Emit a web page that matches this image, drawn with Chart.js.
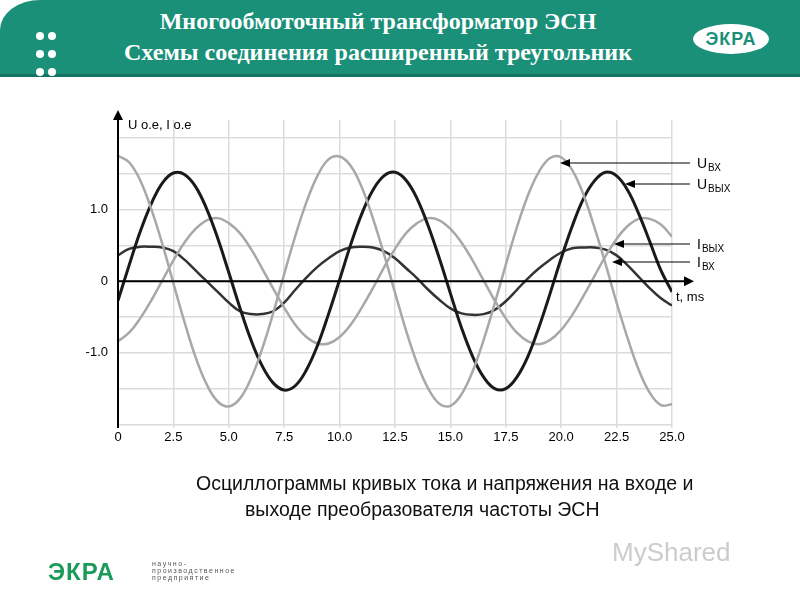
<!DOCTYPE html>
<html lang="ru">
<head>
<meta charset="UTF-8" />
<title>Многообмоточный трансформатор ЭСН</title>
<script src="https://cdn.jsdelivr.net/npm/chart.js"></script>
<style>
  body { margin: 0; width: 800px; height: 600px; background: #fff; position: relative; overflow: hidden; font-family: "Liberation Sans", Arial, sans-serif; }
  .header { position: absolute; left: 0; top: 0; width: 800px; height: 74px; background: #1b9079; border-top-left-radius: 40px 30px; border-bottom: 3px solid #127563; }
  .header h1 { margin: 0; position: absolute; left: 0; width: 756px; top: 6px; text-align: center; color: #fff; font-family: "Liberation Serif", "Times New Roman", serif; font-weight: bold; font-size: 24px; line-height: 31px; }
  .dots { position: absolute; left: 36px; top: 29px; width: 26px; }
  .dots span { display: inline-block; width: 8px; height: 8px; border-radius: 50%; background: #fff; margin: 0 4px 3px 0; }
  .logo { position: absolute; left: 693px; top: 24px; width: 76px; height: 30px; border-radius: 50%; background: #fff; color: #1b9079; font-weight: bold; font-size: 18px; text-align: center; line-height: 30px; letter-spacing: 1px; }
  #wrap { position: absolute; left: 0; top: 0; width: 800px; height: 600px; }
  .caption { position: absolute; left: 196px; width: 560px; top: 470px; font-size: 19.5px; line-height: 26px; color: #111; }
  .caption span { padding-left: 49px; }
  .foot { position: absolute; left: 48px; top: 558px; color: #1b9a5a; font-weight: bold; font-size: 24px; letter-spacing: 1px; }
  .foot small { position: absolute; left: 104px; top: 2px; width: 130px; font-size: 7px; line-height: 7px; letter-spacing: 1.5px; font-weight: normal; color: #555; }
  .mark { position: absolute; left: 612px; top: 537px; color: #ccc; font-size: 26px; }
</style>
</head>
<body>
<div class="header">
  <div class="dots"><span></span><span></span><span></span><span></span><span></span><span></span></div>
  <h1>Многообмоточный трансформатор ЭСН<br>Схемы соединения расширенный треугольник</h1>
  <div class="logo">ЭКРА</div>
</div>
<div id="wrap"><canvas id="osc" width="800" height="600"></canvas></div>
<div class="caption">Осциллограммы кривых тока и напряжения на входе и<br><span>выходе преобразователя частоты ЭСН</span></div>
<div class="foot">ЭКРА<small>научно-<br>производственное<br>предприятие</small></div>
<div class="mark">MyShared</div>
<script>
const timeMs = [0,0.5,1,1.5,2,2.5,3,3.5,4,4.5,5,5.5,6,6.5,7,7.5,8,8.5,9,9.5,10,10.5,11,11.5,12,12.5,13,13.5,14,14.5,15,15.5,16,16.5,17,17.5,18,18.5,19,19.5,20,20.5,21,21.5,22,22.5,23,23.5,24,24.5,25];
const uIn = [1.75,1.66,1.41,1.01,0.52,-0.03,-0.57,-1.06,-1.44,-1.68,-1.75,-1.64,-1.36,-0.95,-0.45,0.10,0.63,1.10,1.47,1.70,1.74,1.61,1.31,0.88,0.38,-0.16,-0.69,-1.15,-1.50,-1.71,-1.74,-1.58,-1.26,-0.82,-0.31,0.23,0.75,1.20,1.53,1.72,1.73,1.55,1.21,0.75,0.24,-0.30,-0.80,-1.24,-1.56,-1.73,-1.72];
const uOut = [-0.27,0.22,0.69,1.08,1.37,1.51,1.49,1.32,1.01,0.60,0.12,-0.37,-0.82,-1.18,-1.42,-1.52,-1.46,-1.24,-0.90,-0.46,0.02,0.51,0.94,1.27,1.47,1.52,1.41,1.15,0.77,0.32,-0.17,-0.65,-1.05,-1.34,-1.50,-1.50,-1.34,-1.05,-0.64,-0.17,0.32,0.77,1.15,1.40,1.52,1.47,1.27,0.94,0.55,0.15,-0.15];
const iOut = [-0.84,-0.72,-0.52,-0.27,0.01,0.29,0.54,0.73,0.85,0.88,0.81,0.67,0.45,0.18,-0.10,-0.37,-0.61,-0.78,-0.87,-0.87,-0.78,-0.61,-0.37,-0.10,0.19,0.45,0.67,0.81,0.88,0.85,0.73,0.54,0.29,0.01,-0.27,-0.52,-0.72,-0.84,-0.88,-0.82,-0.68,-0.47,-0.21,0.07,0.35,0.59,0.77,0.87,0.87,0.79,0.62];
const iIn = [0.36,0.45,0.48,0.48,0.47,0.42,0.30,0.15,0.00,-0.15,-0.30,-0.42,-0.46,-0.46,-0.42,-0.30,-0.12,0.05,0.20,0.32,0.42,0.47,0.48,0.47,0.42,0.32,0.18,0.04,-0.12,-0.26,-0.38,-0.45,-0.47,-0.46,-0.40,-0.28,-0.12,0.04,0.18,0.30,0.40,0.46,0.47,0.47,0.44,0.36,0.22,0.06,-0.10,-0.24,-0.34];
const xTicks = [0,2.5,5,7.5,10,12.5,15,17.5,20,22.5,25];
const yGrid = [-2,-1.5,-1,-0.5,0,0.5,1,1.5,2];
const yLabels = { "1": "1.0", "0": "0", "-1": "-1.0" };
const seriesNames = ["Uвх", "Uвых", "Iвых", "Iвх"];

const pts = (arr) => arr.map((v, i) => ({ x: timeMs[i], y: v }));

// axes with arrows and the labelled pointers on the right
const overlay = {
  id: "overlay",
  afterDatasetsDraw(chart) {
    const { ctx, chartArea: a, scales: { x, y } } = chart;
    const y0 = y.getPixelForValue(0);
    ctx.save();
    ctx.strokeStyle = "#000"; ctx.fillStyle = "#000"; ctx.lineWidth = 2;
    ctx.beginPath(); ctx.moveTo(a.left, a.bottom); ctx.lineTo(a.left, a.top - 2); ctx.stroke();
    ctx.beginPath(); ctx.moveTo(a.left - 5, a.top); ctx.lineTo(a.left + 5, a.top); ctx.lineTo(a.left, a.top - 10); ctx.fill();
    ctx.beginPath(); ctx.moveTo(a.left, y0); ctx.lineTo(a.right + 14, y0); ctx.stroke();
    ctx.beginPath(); ctx.moveTo(a.right + 12, y0 - 5); ctx.lineTo(a.right + 12, y0 + 5); ctx.lineTo(a.right + 22, y0); ctx.fill();
    ctx.font = "13px 'Liberation Sans', Arial";
    ctx.fillText("U o.e, I o.e", a.left + 10, a.top + 9);
    ctx.fillText("t, ms", 676, y0 + 20);
    const ptr = [[163, 560], [184, 625], [244, 614], [262, 612]];
    ctx.lineWidth = 1;
    ptr.forEach(([py, tx], k) => {
      ctx.beginPath(); ctx.moveTo(690, py); ctx.lineTo(tx + 8, py); ctx.stroke();
      ctx.beginPath(); ctx.moveTo(tx, py); ctx.lineTo(tx + 10, py - 4); ctx.lineTo(tx + 10, py + 4); ctx.fill();
      const nm = seriesNames[k];
      ctx.font = "14px 'Liberation Sans', Arial";
      ctx.fillText(nm[0], 697, py + 5);
      const w = ctx.measureText(nm[0]).width;
      ctx.font = "10px 'Liberation Sans', Arial";
      ctx.fillText(nm.slice(1).toUpperCase(), 697 + w + 1, py + 8);
    });
    ctx.restore();
  }
};

new Chart(document.getElementById("osc"), {
  type: "line",
  data: {
    datasets: [
      { label: seriesNames[0], data: pts(uIn), borderColor: "#a8a8a8", borderWidth: 2.5 },
      { label: seriesNames[1], data: pts(uOut), borderColor: "#1a1a1a", borderWidth: 3 },
      { label: seriesNames[2], data: pts(iOut), borderColor: "#a8a8a8", borderWidth: 2.5 },
      { label: seriesNames[3], data: pts(iIn), borderColor: "#333", borderWidth: 2.5 },
    ],
  },
  options: {
    responsive: false,
    animation: false,
    layout: { padding: { top: 120, right: 128, left: 0, bottom: 0 } },
    elements: { point: { radius: 0 }, line: { tension: 0.4 } },
    plugins: { legend: { display: false }, tooltip: { enabled: false } },
    scales: {
      x: {
        type: "linear", min: 0, max: 25,
        afterBuildTicks: (s) => { s.ticks = xTicks.map((v) => ({ value: v })); },
        afterFit: (s) => { s.height = 172; },
        ticks: { color: "#000", font: { size: 13, family: "'Liberation Sans', Arial" }, padding: 2, maxRotation: 0,
          callback: (v) => (v === 0 ? "0" : v.toFixed(1)) },
        grid: { color: "#dcdcdc", lineWidth: 1.5, drawTicks: false },
        border: { display: false },
      },
      y: {
        min: -2.05, max: 2.25,
        afterBuildTicks: (s) => { s.ticks = yGrid.map((v) => ({ value: v })); },
        afterFit: (s) => { s.width = 118; },
        ticks: { color: "#000", font: { size: 13, family: "'Liberation Sans', Arial" }, padding: 10,
          callback: (v) => yLabels[String(v)] || "" },
        grid: { color: "#dcdcdc", lineWidth: 1.5, drawTicks: false },
        border: { display: false },
      },
    },
  },
  plugins: [overlay],
});
</script>
</body>
</html>
